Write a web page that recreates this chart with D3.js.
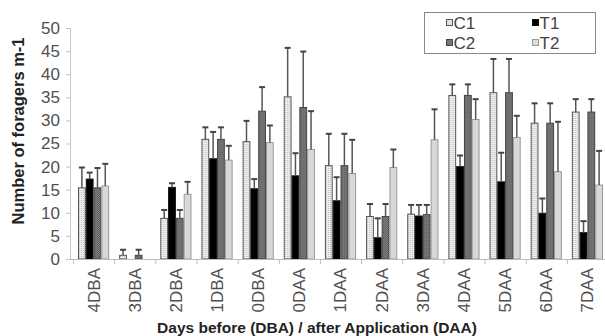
<!DOCTYPE html>
<html>
<head>
<meta charset="utf-8">
<script src="https://cdn.jsdelivr.net/npm/d3@7"></script>
<style>
  body { margin: 0; background: #fff; }
  svg { display: block; font-family: "Liberation Sans", Arial, sans-serif; }
</style>
</head>
<body>
<div id="chart"></div>
<script>
// days before / after application
const categories = ['4DBA', '3DBA', '2DBA', '1DBA', '0DBA', '0DAA', '1DAA', '2DAA', '3DAA', '4DAA', '5DAA', '6DAA', '7DAA'];
const seriesKeys = ['C1', 'T1', 'C2', 'T2'];

// mean number of foragers per metre
const c1Values = [15.4, 0.8, 8.8, 25.9, 25.4, 35.1, 20.2, 9.2, 9.7, 35.4, 36.0, 29.4, 31.8];
const t1Values = [17.3, 0, 15.5, 21.7, 15.2, 18.0, 12.6, 4.6, 9.3, 20.0, 16.7, 9.9, 5.7];
const c2Values = [15.4, 0.8, 8.8, 25.9, 32.0, 32.8, 20.2, 9.2, 9.6, 35.4, 36.0, 29.4, 31.8];
const t2Values = [15.8, 0, 14.0, 21.4, 25.2, 23.7, 18.5, 19.8, 25.8, 30.2, 26.3, 18.9, 16.0];

// top of the error bar (mean + error)
const c1Upper = [19.8, 2.0, 10.6, 28.5, 29.9, 45.7, 27.1, 11.9, 11.7, 37.8, 43.3, 33.7, 34.6];
const t1Upper = [18.7, 0, 16.4, 27.5, 17.3, 22.9, 17.7, 8.8, 11.7, 22.4, 23.0, 13.1, 8.2];
const c2Upper = [19.7, 2.0, 10.6, 28.5, 37.2, 44.9, 27.1, 11.9, 11.7, 37.8, 43.3, 33.7, 34.6];
const t2Upper = [20.6, 0, 16.7, 24.5, 28.9, 32.0, 25.8, 23.7, 32.4, 34.6, 31.0, 29.7, 23.4];

const yTicks = [0, 5, 10, 15, 20, 25, 30, 35, 40, 45, 50];

const values = {C1: c1Values, T1: t1Values, C2: c2Values, T2: t2Values};
const uppers = {C1: c1Upper, T1: t1Upper, C2: c2Upper, T2: t2Upper};

const width = 605, height = 336;
const margin = {top: 28, right: -3, bottom: 77, left: 73};
const plotW = width - margin.left - margin.right;
const plotH = height - margin.top - margin.bottom;

const svg = d3.select('#chart').append('svg')
  .attr('width', width)
  .attr('height', height);

// fill patterns for the two control series
const defs = svg.append('defs');
const p1 = defs.append('pattern').attr('id', 'patC1')
  .attr('width', 2).attr('height', 2).attr('patternUnits', 'userSpaceOnUse');
p1.append('rect').attr('width', 2).attr('height', 2).attr('fill', '#efefef');
p1.append('rect').attr('width', 1).attr('height', 1).attr('fill', '#bcbcbc');

const p2 = defs.append('pattern').attr('id', 'patC2')
  .attr('width', 2).attr('height', 2).attr('patternUnits', 'userSpaceOnUse');
p2.append('rect').attr('width', 2).attr('height', 2).attr('fill', '#808080');
p2.append('rect').attr('width', 1).attr('height', 1).attr('fill', '#555');
p2.append('rect').attr('x', 1).attr('y', 1).attr('width', 1).attr('height', 1).attr('fill', '#6a6a6a');

const fills = {C1: 'url(#patC1)', T1: '#000', C2: 'url(#patC2)', T2: '#d8d8d8'};
const strokes = {C1: '#555', T1: '#111', C2: '#444', T2: '#9a9a9a'};
const swatchFills = {C1: '#e0e0e0', T1: '#000', C2: '#777', T2: '#dcdcdc'};

const chart = svg.append('g')
  .attr('transform', `translate(${margin.left}, ${margin.top})`);

const x0 = d3.scaleBand()
  .domain(categories)
  .range([0, plotW])
  .padding(0);

const x1 = d3.scaleBand()
  .domain(seriesKeys)
  .range([0, x0.bandwidth()])
  .paddingInner(0)
  .paddingOuter(0.64);

const y = d3.scaleLinear()
  .domain([0, 50])
  .range([plotH, 0]);

// y axis
const yAxis = chart.append('g')
  .attr('transform', 'translate(-3,0)')
  .call(d3.axisLeft(y).tickValues(yTicks).tickSize(4).tickPadding(6));
yAxis.select('.domain').attr('stroke', '#c4c4c4');
yAxis.selectAll('.tick line').attr('stroke', '#c4c4c4');
yAxis.selectAll('text')
  .attr('font-size', 17)
  .attr('fill', '#505050')
  .attr('font-family', '"Liberation Sans", Arial, sans-serif');

// bars
const groups = chart.append('g')
  .selectAll('g')
  .data(categories)
  .enter().append('g')
  .attr('transform', d => `translate(${x0(d)},0)`);

const barData = (d, i) => seriesKeys.map(k => ({key: k, value: values[k][i], upper: uppers[k][i]}));

groups.each(function (cat) {
  const i = categories.indexOf(cat);
  const g = d3.select(this);
  const items = barData(cat, i).filter(b => b.value > 0);

  g.selectAll('rect')
    .data(items)
    .enter().append('rect')
    .attr('x', d => x1(d.key) + 0.5)
    .attr('y', d => y(d.value))
    .attr('width', x1.bandwidth() - 1)
    .attr('height', d => y(0) - y(d.value))
    .attr('fill', d => fills[d.key])
    .attr('stroke', d => strokes[d.key])
    .attr('stroke-width', 1);

  const err = g.selectAll('g.err')
    .data(items.filter(b => b.upper > b.value))
    .enter().append('g')
    .attr('class', 'err');

  err.append('line')
    .attr('x1', d => x1(d.key) + x1.bandwidth() / 2)
    .attr('x2', d => x1(d.key) + x1.bandwidth() / 2)
    .attr('y1', d => y(d.value))
    .attr('y2', d => y(d.upper))
    .attr('stroke', '#555')
    .attr('stroke-width', 1.5);

  err.append('line')
    .attr('x1', d => x1(d.key) + x1.bandwidth() / 2 - 3)
    .attr('x2', d => x1(d.key) + x1.bandwidth() / 2 + 3)
    .attr('y1', d => y(d.upper))
    .attr('y2', d => y(d.upper))
    .attr('stroke', '#444')
    .attr('stroke-width', 2);
});

// x axis
const xAxis = chart.append('g')
  .attr('transform', `translate(0,${plotH})`)
  .call(d3.axisBottom(x0).tickSize(0).tickPadding(0));
xAxis.select('.domain').attr('stroke', '#bdbdbd').attr('d', `M-3,0.5H${plotW}`);

// tick marks between the categories
xAxis.selectAll('line.sep')
  .data(categories)
  .enter().append('line')
  .attr('class', 'sep')
  .attr('x1', d => x0(d) + 0.5)
  .attr('x2', d => x0(d) + 0.5)
  .attr('y1', 0)
  .attr('y2', 5)
  .attr('stroke', '#bdbdbd');

xAxis.selectAll('.tick text')
  .attr('font-size', 17)
  .attr('fill', '#505050')
  .attr('font-family', '"Liberation Sans", Arial, sans-serif')
  .attr('text-anchor', 'end')
  .attr('dy', '0.35em')
  .attr('transform', 'translate(0,9) rotate(-90)');

// axis titles
svg.append('text')
  .attr('x', 317)
  .attr('y', 333)
  .attr('text-anchor', 'middle')
  .attr('font-size', 15.5)
  .attr('font-weight', 'bold')
  .attr('fill', '#222')
  .text('Days before (DBA) / after Application (DAA)');

svg.append('text')
  .attr('transform', 'translate(24,131) rotate(-90)')
  .attr('text-anchor', 'middle')
  .attr('font-size', 16.5)
  .attr('font-weight', 'bold')
  .attr('fill', '#222')
  .text('Number of foragers m-1');

// legend
const legend = svg.append('g').attr('transform', 'translate(424.5,12.5)');
legend.append('rect')
  .attr('width', 171)
  .attr('height', 41)
  .attr('fill', '#fff')
  .attr('stroke', '#8a8a8a');

const legendItem = legend.selectAll('g.item')
  .data(seriesKeys)
  .enter().append('g')
  .attr('class', 'item')
  .attr('transform', (d, i) => `translate(${i % 2 === 0 ? 22 : 108},${i < 2 ? 10 : 30})`);

legendItem.append('rect')
  .attr('y', -3)
  .attr('width', 6)
  .attr('height', 6)
  .attr('fill', d => swatchFills[d])
  .attr('stroke', d => strokes[d]);

legendItem.append('text')
  .attr('x', 7)
  .attr('dy', '0.36em')
  .attr('font-size', 17)
  .attr('fill', '#444')
  .text(d => d);
</script>
</body>
</html>
